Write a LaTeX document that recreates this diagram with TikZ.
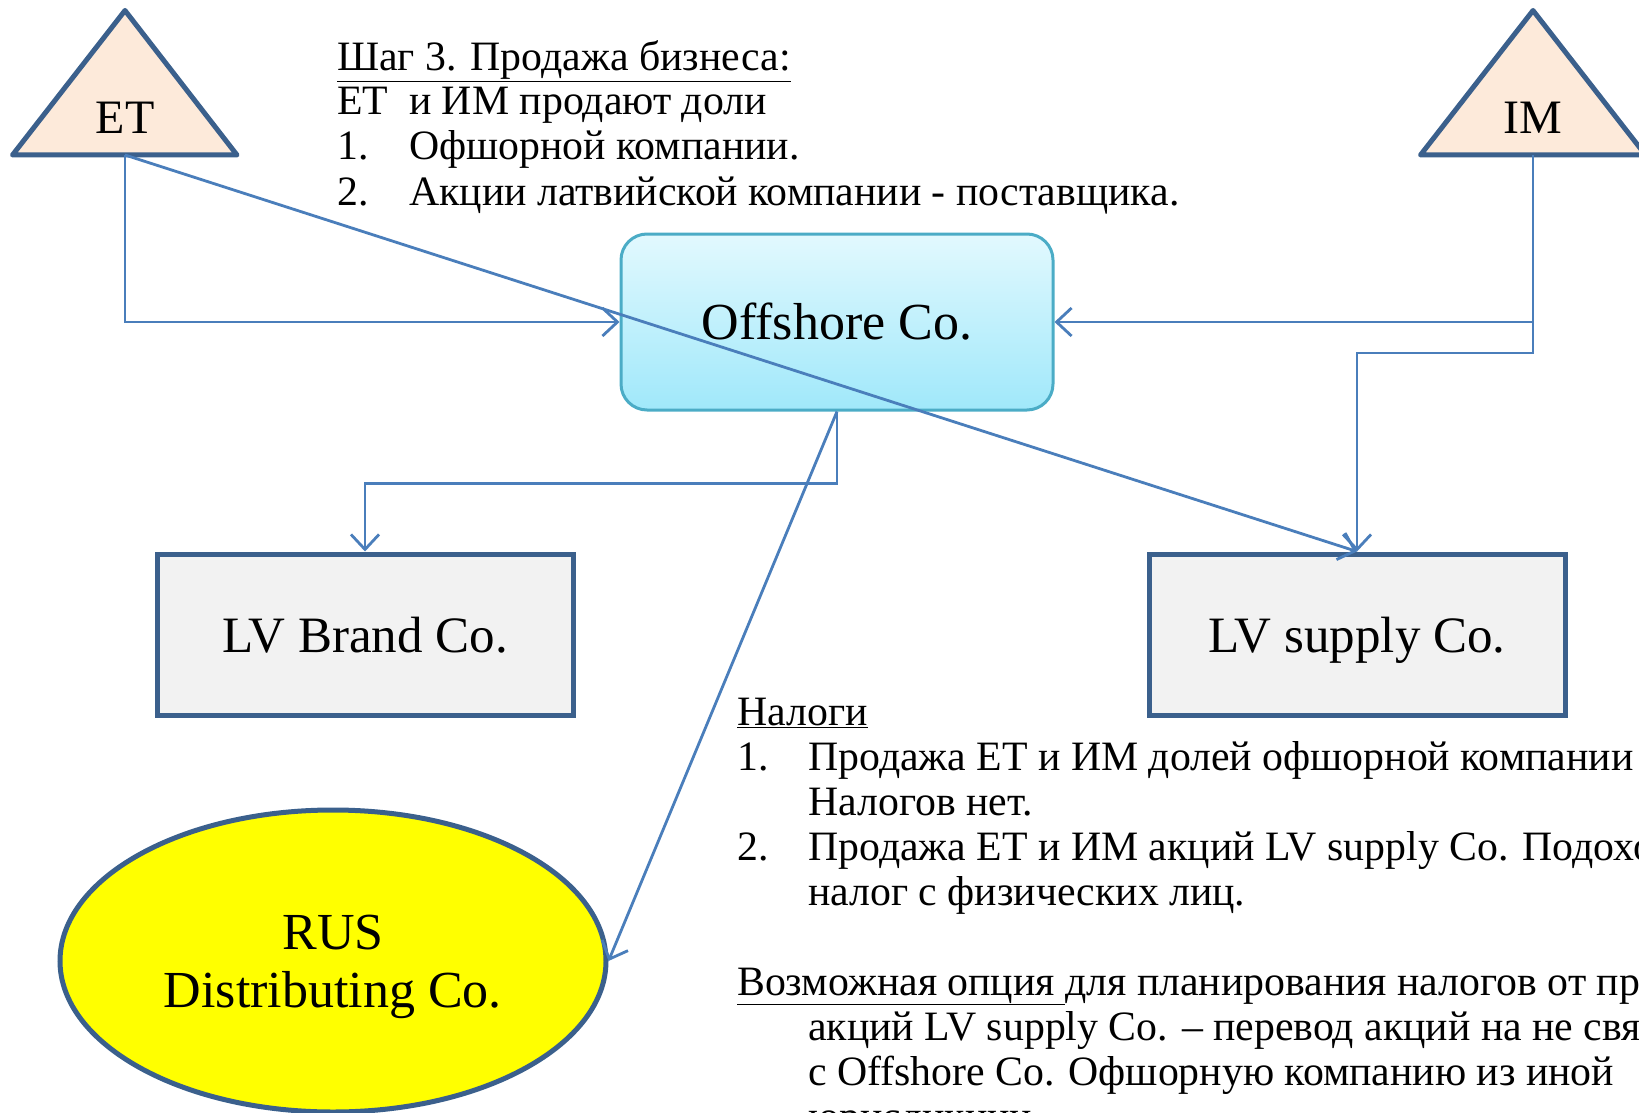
\documentclass[tikz,border=0pt]{standalone}
\usepackage{fontspec}
\setmainfont{Liberation Serif}
\usetikzlibrary{shapes.geometric,arrows.meta}
\definecolor{edgeblue}{HTML}{3B608C}
\definecolor{linkblue}{HTML}{4A7EBB}
\definecolor{offedge}{HTML}{4BACC6}
\definecolor{offtop}{HTML}{E2F9FE}
\definecolor{offbot}{HTML}{A0E8FA}
\definecolor{trifill}{HTML}{FDEADA}
\definecolor{boxfill}{HTML}{F2F2F2}
\definecolor{rusfill}{HTML}{FFFF00}
\begin{document}
\begin{tikzpicture}[x=1pt,y=-1pt,
  box/.style={draw=edgeblue,line width=5pt,fill=boxfill,minimum width=416pt,minimum height=161pt,inner sep=0pt,text height=46pt,text depth=11pt,font=\fontsize{51}{58}\selectfont},
  tri/.style={draw=edgeblue,line width=5pt,fill=trifill,line join=round},
  link/.style={draw=linkblue,line width=2.8pt,-{Straight Barb[length=15pt,width=28pt]}},
  txt/.style={anchor=base west,inner sep=0pt,font=\fontsize{41.8}{45}\selectfont}]
\useasboundingbox (0,0) rectangle (1639,1113);
% owners
\draw[tri] (12.5,155) -- (125,10.5) -- (237,155) -- cycle;
\draw[tri] (1420.5,155) -- (1533,10.5) -- (1645.5,155) -- cycle;
\node[font=\fontsize{48}{50}\selectfont] (et) at (125,118) {ET};
\node[font=\fontsize{48}{50}\selectfont] (im) at (1533,118) {IM};
\coordinate (etb) at (125,155);
\coordinate (imb) at (1533,155);
% companies
\node[draw=offedge,line width=3pt,rounded corners=26pt,top color=offtop,bottom color=offbot,minimum width=432pt,minimum height=176pt,inner sep=0pt,font=\fontsize{52}{58}\selectfont] (off) at (837,322) {Offshore Co.};
\node[box] (brand) at (365,634.5) {LV Brand Co.};
\node[box] (supply) at (1357,634.5) {LV supply Co.};
\node[ellipse,draw=edgeblue,line width=5pt,fill=rusfill,minimum width=546pt,minimum height=302pt,inner sep=0pt,text depth=0pt,align=center,font=\fontsize{52}{58}\selectfont] (rus) at (333,961) {RUS\\Distributing Co.};
% links
\draw[link] (etb) |- (off.west);
\draw[link] (imb) |- (off.east);
\draw[link] (imb) -- (imb |- 0,353) -| (supply.north);
\draw[link] (off.south) -- ++(0,72) -| (brand.north);
\draw[link] (off.south) -- (rus.east);
\draw[link] (etb) -- (supply.north);
% step text
\node[txt] (s1) at (337,71) {\underline{Шаг 3. Продажа бизнеса:}};
\node[txt] (s2) at (337,115) {ЕТ\ \ и ИМ продают доли};
\node[txt] (s3n) at (337,160) {1.};
\node[txt] (s3) at (409,160) {Офшорной компании.};
\node[txt] (s4n) at (337,205) {2.};
\node[txt] (s4) at (409,205) {Акции латвийской компании - поставщика.};
% tax text
\node[txt] (t0) at (737,725) {\underline{Налоги}};
\node[txt] (t1n) at (737,770) {1.};
\node[txt] (t1) at (808,770) {Продажа ЕТ и ИМ долей офшорной компании};
\node[txt] (t1b) at (808,815) {Налогов нет.};
\node[txt] (t2n) at (737,860) {2.};
\node[txt] (t2) at (808,860) {Продажа ЕТ и ИМ акций LV supply Co. Подоходный};
\node[txt] (t2b) at (808,905) {налог с физических лиц.};
\node[txt] (o1) at (737,995) {\underline{Возможная опция }для планирования налогов от продажи};
\node[txt] (o2) at (808,1040) {акций LV supply Co. – перевод акций на не связанную};
\node[txt] (o3) at (808,1085) {с Offshore Co. Офшорную компанию из иной};
\node[txt] (o4) at (808,1130) {юрисдикции.};
\end{tikzpicture}
\end{document}
